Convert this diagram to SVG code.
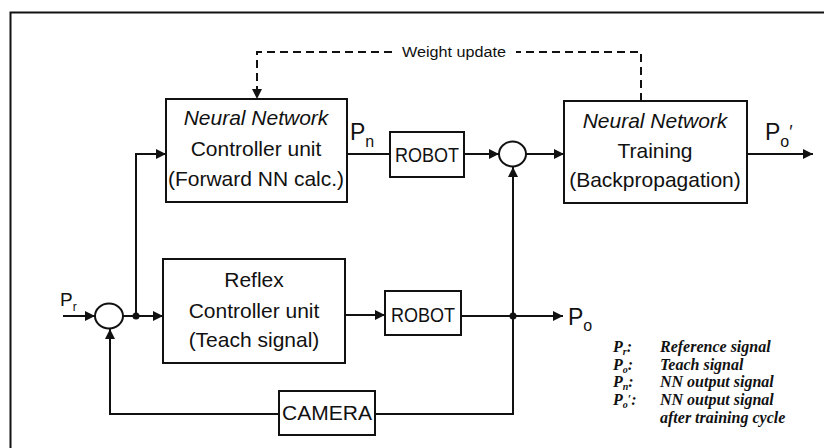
<svg xmlns="http://www.w3.org/2000/svg" width="824" height="448" viewBox="0 0 824 448">
<style>
.box{fill:#fff;stroke:#111;stroke-width:2}
.ln{fill:none;stroke:#111;stroke-width:2}
.dash{fill:none;stroke:#111;stroke-width:2;stroke-dasharray:8 5}
.t{font-family:"Liberation Sans",Arial,sans-serif;font-size:21px;fill:#111;text-anchor:middle}
.ti{font-style:italic}
.sig{font-family:"Liberation Sans",Arial,sans-serif;fill:#111}
.lg{font-family:"Liberation Serif","Times New Roman",serif;font-style:italic;font-weight:bold;font-size:16px;fill:#111}
.wu{font-family:"Liberation Sans",Arial,sans-serif;font-size:14px;fill:#111}
</style>
<defs>
<marker id="ah" markerUnits="userSpaceOnUse" markerWidth="11" markerHeight="10" refX="10" refY="5" orient="auto">
<path d="M0,0 L10,5 L0,10 z" fill="#111"/>
</marker>
</defs>
<g id="frame"><path class="ln" d="M10.5,448 L10.5,12.5 L824,12.5"/></g>
<g id="connectors">
<path class="ln" d="M63,316 L95,316" marker-end="url(#ah)"/>
<path class="ln" d="M123,316 L163,316" marker-end="url(#ah)"/>
<path class="ln" d="M136,316 L136,154 L166,154" marker-end="url(#ah)"/>
<circle cx="136" cy="316" r="3.5" fill="#111"/>
<path class="ln" d="M347,154 L390,154"/>
<path class="ln" d="M464,154 L499,154" marker-end="url(#ah)"/>
<path class="ln" d="M526,154 L564,154" marker-end="url(#ah)"/>
<path class="ln" d="M747,154 L813,154" marker-end="url(#ah)"/>
<path class="ln" d="M345,315 L385,315" marker-end="url(#ah)"/>
<path class="ln" d="M461,316 L563,316" marker-end="url(#ah)"/>
<circle cx="513" cy="316" r="3.5" fill="#111"/>
<path class="ln" d="M375,414 L513,414 L513,167" marker-end="url(#ah)"/>
<path class="ln" d="M279,414 L110,414 L110,329" marker-end="url(#ah)"/>
<path class="dash" d="M641,101 L641,52 L516,52"/>
<path class="dash" d="M392,52 L257,52 L257,99" marker-end="url(#ah)"/>
<text class="wu" x="454" y="57" text-anchor="middle" textLength="104" lengthAdjust="spacingAndGlyphs">Weight update</text>
</g>
<g id="sum1"><ellipse cx="109" cy="316" rx="14" ry="12.5" fill="#fff" stroke="#111" stroke-width="2"/></g>
<g id="sum2"><ellipse cx="512.5" cy="154" rx="13.5" ry="12.5" fill="#fff" stroke="#111" stroke-width="2"/></g>
<g id="nn-controller">
<rect class="box" x="166" y="99" width="181" height="103"/>
<text class="t ti" x="256" y="125">Neural Network</text>
<text class="t" x="256" y="156">Controller unit</text>
<text class="t" x="256" y="186">(Forward NN calc.)</text>
</g>
<g id="robot1">
<rect class="box" x="390" y="132" width="74" height="45"/>
<text class="t" x="427" y="162" font-size="19" textLength="64" lengthAdjust="spacingAndGlyphs">ROBOT</text>
</g>
<g id="nn-training">
<rect class="box" x="564" y="101" width="183" height="102"/>
<text class="t ti" x="655" y="128">Neural Network</text>
<text class="t" x="655" y="158">Training</text>
<text class="t" x="655" y="187">(Backpropagation)</text>
</g>
<g id="reflex">
<rect class="box" x="163" y="259" width="182" height="104"/>
<text class="t" x="254" y="287">Reflex</text>
<text class="t" x="254" y="318">Controller unit</text>
<text class="t" x="254" y="347">(Teach signal)</text>
</g>
<g id="robot2">
<rect class="box" x="385" y="291" width="76" height="44"/>
<text class="t" x="423" y="322" font-size="19" textLength="64" lengthAdjust="spacingAndGlyphs">ROBOT</text>
</g>
<g id="camera">
<rect class="box" x="279" y="391" width="96" height="44"/>
<text class="t" x="327" y="420" font-size="19">CAMERA</text>
</g>
<g id="labels">
<text class="sig" x="60" y="306" font-size="19">P<tspan font-size="12" dy="5">r</tspan></text>
<text class="sig" x="350" y="140" font-size="23">P<tspan font-size="16" dy="7">n</tspan></text>
<text class="sig" x="568" y="325" font-size="23">P<tspan font-size="16" dy="6">o</tspan></text>
<text class="sig" x="765" y="140" font-size="23">P<tspan font-size="16" dy="7">o</tspan><tspan font-size="18" dy="-9">′</tspan></text>
</g>
<g id="legend">
<text class="lg" x="613" y="352">P<tspan font-size="10" dy="3">r</tspan><tspan dy="-3">:</tspan></text>
<text class="lg" x="613" y="370">P<tspan font-size="10" dy="3">o</tspan><tspan dy="-3">:</tspan></text>
<text class="lg" x="613" y="387">P<tspan font-size="10" dy="3">n</tspan><tspan dy="-3">:</tspan></text>
<text class="lg" x="613" y="405">P<tspan font-size="10" dy="3">o</tspan><tspan font-size="12" dy="-5">′</tspan><tspan dy="2">:</tspan></text>
<text class="lg" x="660" y="352">Reference signal</text>
<text class="lg" x="660" y="370">Teach signal</text>
<text class="lg" x="660" y="387">NN output signal</text>
<text class="lg" x="660" y="405">NN output signal</text>
<text class="lg" x="660" y="423">after training cycle</text>
</g>
</svg>
